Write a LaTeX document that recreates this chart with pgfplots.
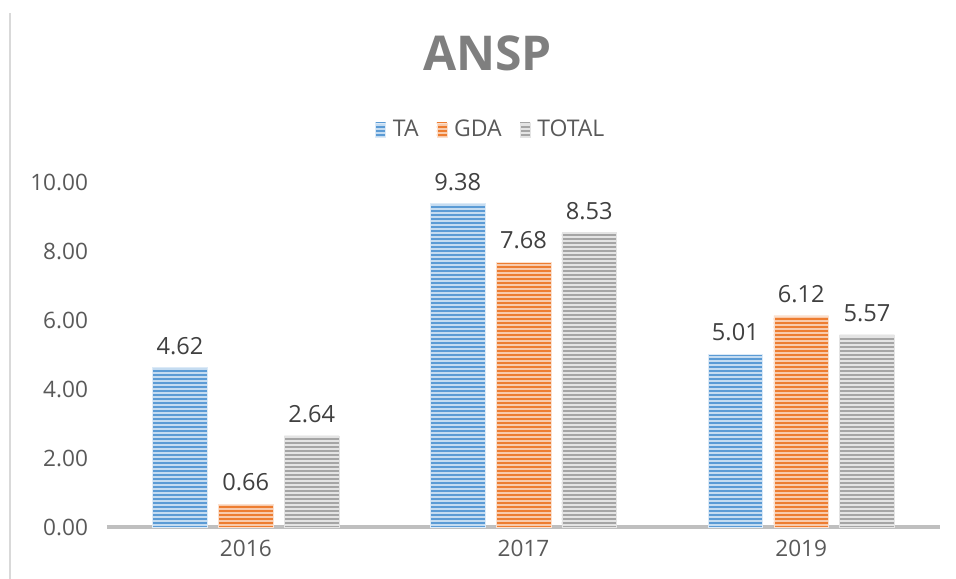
\documentclass[border=0pt]{standalone}
\usepackage{pgfplots}
\pgfplotsset{compat=1.18}
\usetikzlibrary{patterns.meta}
\usepackage{fontspec}
\setmainfont{Open Sans}
\definecolor{cblue}{HTML}{5B9BD5}
\definecolor{corange}{HTML}{ED7D31}
\definecolor{cgray}{HTML}{A5A5A5}
\definecolor{lblue}{HTML}{C5DCF1}
\definecolor{lorange}{HTML}{F8CBAD}
\definecolor{lgray}{HTML}{E4E4E4}
\definecolor{ticktxt}{HTML}{595959}
\definecolor{labtxt}{HTML}{404040}
\definecolor{titletxt}{HTML}{7F7F7F}
\definecolor{axline}{HTML}{BFBFBF}
\pgfplotstableread{
x TA GDA TOTAL
0 4.62 0.66 2.64
1 9.38 7.68 8.53
2 5.01 6.12 5.57
}\datatable
\begin{document}
\begin{tikzpicture}
\useasboundingbox (-53.5bp,-26bp) rectangle (424.5bp,263.5bp);
\draw[draw=black!15, line width=1bp] (-48.5bp,-26bp) -- (-48.5bp,257bp);
\begin{axis}[
  at={(0,0)}, anchor=south west,
  scale only axis,
  width=416.5bp, height=172.5bp,
  ybar, bar width=0.197,
  xmin=-0.5, xmax=2.5, ymin=0, ymax=10,
  xtick={0,1,2}, xticklabels={2016,2017,2019},
  ytick={0,2,4,6,8,10},
  yticklabel={\pgfmathprintnumber[fixed,fixed zerofill,precision=2]{\tick}},
  /pgf/number format/assume math mode=true,
  major tick length=0pt,
  axis x line=bottom, axis y line=left,
  x axis line style={-, draw=axline, line width=1.6bp},
  y axis line style={draw=none},
  tick label style={font=\fontsize{11.3bp}{13bp}\selectfont, text=ticktxt},
  yticklabel style={xshift=-6bp},
  xticklabel style={yshift=-3bp},
  title={\textbf{ANSP}},
  title style={at={(axis description cs:0.457,1.339)}, anchor=center, font=\fontsize{24bp}{28bp}\selectfont, text=titletxt},
  legend style={at={(axis description cs:0.462,1.151)}, anchor=center, draw=none, fill=none,
    legend columns=-1, font=\fontsize{11.5bp}{13bp}\selectfont, text=ticktxt,
    /tikz/every odd column/.append style={column sep=1.5bp},
    /tikz/every even column/.append style={column sep=7bp}},
  legend image code/.code={\draw[#1, draw=none] (0bp,-3.5bp) rectangle (5bp,3.5bp);},
  nodes near coords,
  nodes near coords style={font=\fontsize{11.8bp}{14bp}\selectfont, text=labtxt, yshift=3bp, /pgf/number format/.cd, fixed, fixed zerofill, precision=2, assume math mode=true},
  clip=false,
]
\addplot[bar shift=-0.237, fill=lblue, draw=lblue!60, line width=0.3bp,
  postaction={pattern={Lines[angle=0,distance=2bp,line width=1bp]}, pattern color=cblue}]
  table[x=x,y=TA] {\datatable};
\addplot[bar shift=0, fill=lorange, draw=lorange!60, line width=0.3bp,
  postaction={pattern={Lines[angle=0,distance=2bp,line width=1bp]}, pattern color=corange}]
  table[x=x,y=GDA] {\datatable};
\addplot[bar shift=0.237, fill=lgray, draw=lgray, line width=0.3bp,
  postaction={pattern={Lines[angle=0,distance=2bp,line width=1bp]}, pattern color=cgray}]
  table[x=x,y=TOTAL] {\datatable};
\legend{TA,GDA,TOTAL}
\end{axis}
\end{tikzpicture}
\end{document}
